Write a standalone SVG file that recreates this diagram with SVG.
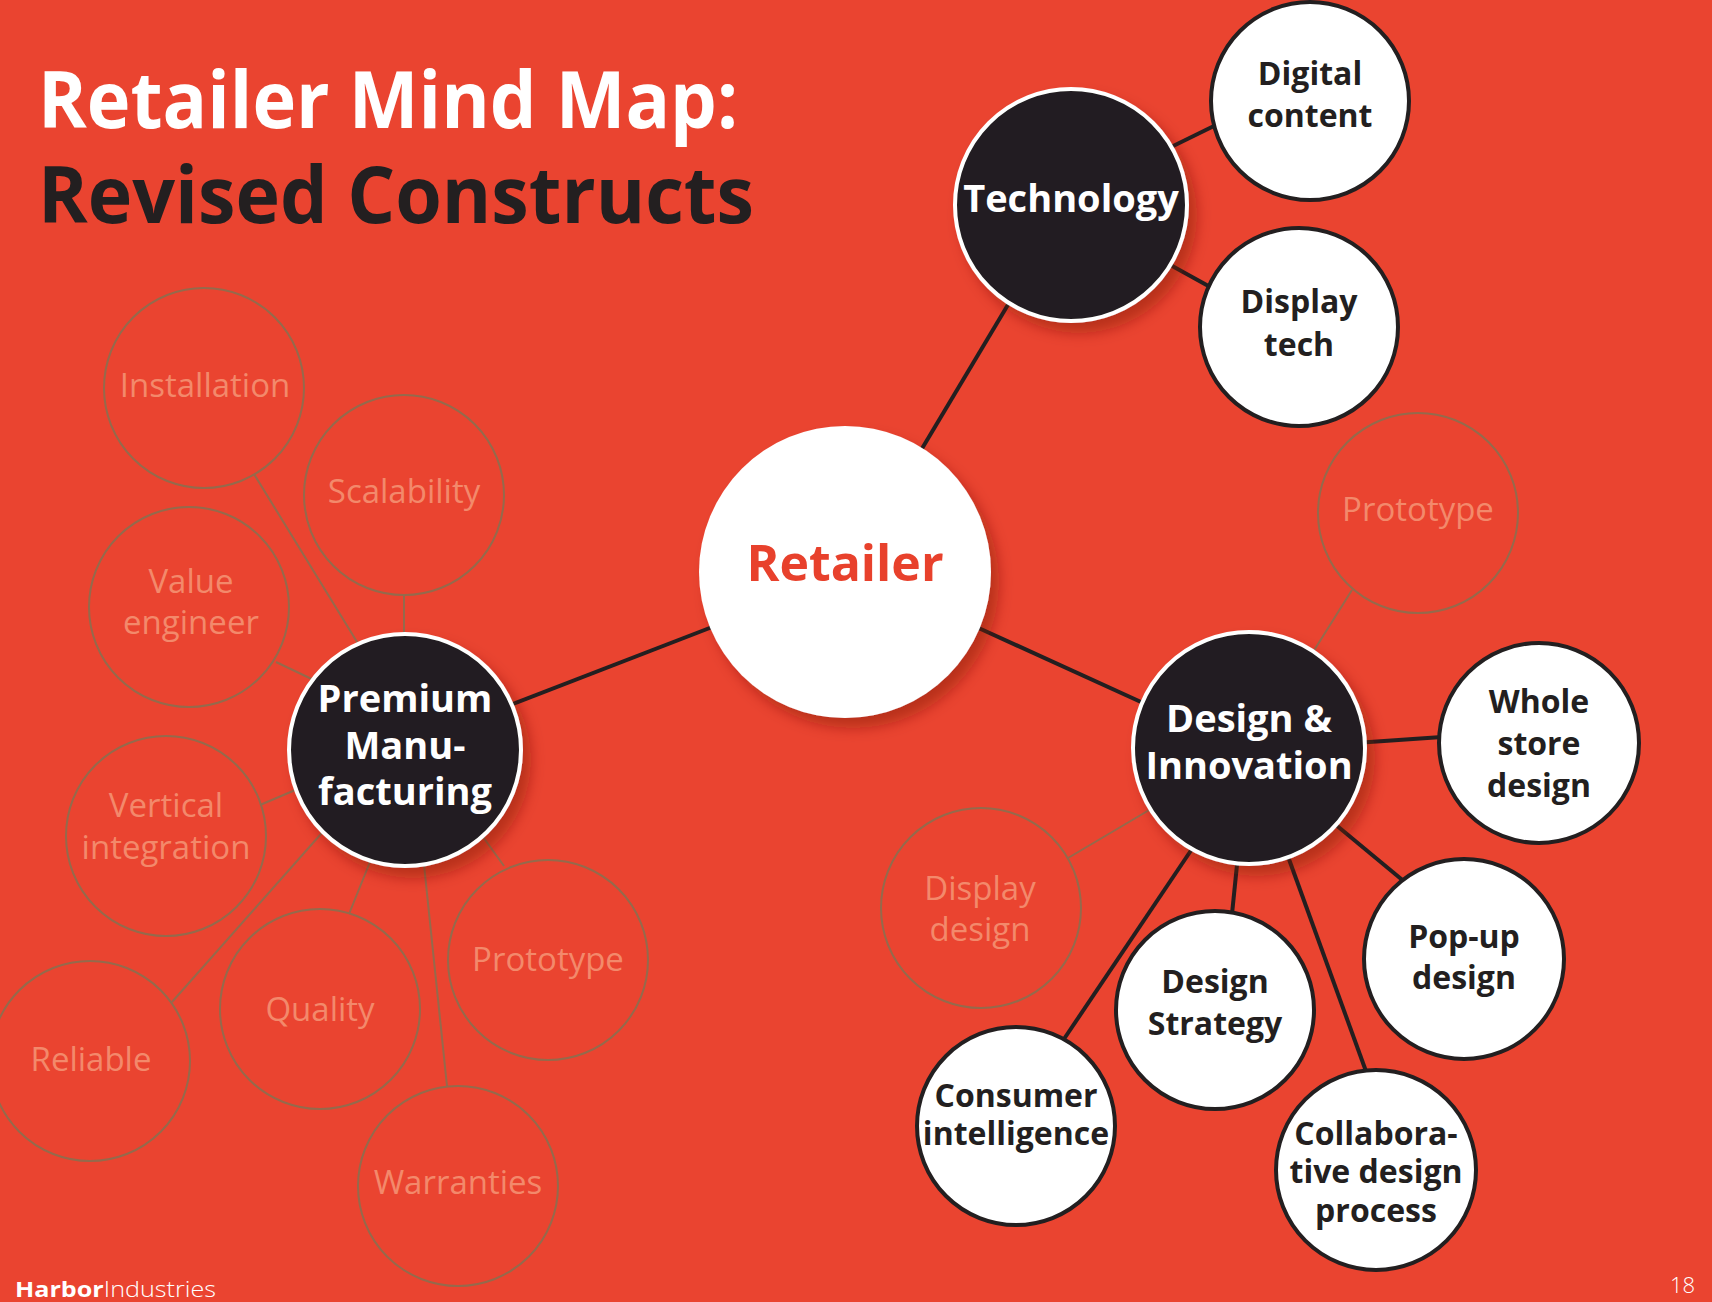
<svg xmlns="http://www.w3.org/2000/svg" width="1712" height="1302" viewBox="0 0 1712 1302">
  <defs>
    <filter id="shadow" x="-30%" y="-30%" width="170%" height="170%">
      <feDropShadow dx="8" dy="10" stdDeviation="7" flood-color="#7a1a0c" flood-opacity="0.45"/>
    </filter>
    <style>
      .title { font-family: "Open Sans", "Liberation Sans", sans-serif; font-weight: 700; font-size: 78px; }
      .main { stroke: #231f20; stroke-width: 4; fill: none; stroke-linecap: butt; }
      .faint { stroke: #946a4c; stroke-width: 2; fill: none; }
      .hub { fill: #231f20; stroke: #ffffff; stroke-width: 4; filter: url(#shadow); }
      .leaf { fill: #ffffff; stroke: #231f20; stroke-width: 4; }
      .ghost { fill: none; stroke: #946a4c; stroke-width: 2; }
      .hubtxt { font-family: "Open Sans", "Liberation Sans", sans-serif; font-weight: 700; font-size: 38px; fill: #ffffff; text-anchor: middle; }
      .leaftxt { font-family: "Open Sans", "Liberation Sans", sans-serif; font-weight: 700; font-size: 32px; fill: #231f20; text-anchor: middle; }
      .ghosttxt { font-family: "Open Sans", "Liberation Sans", sans-serif; font-weight: 400; font-size: 33px; fill: #f3896b; text-anchor: middle; }
      .foot { font-family: "Open Sans", "Liberation Sans", sans-serif; font-size: 22px; fill: #ffffff; }
    </style>
  </defs>

  <rect x="0" y="0" width="1712" height="1302" fill="#ea4430"/>

  <g id="title">
    <text class="title" x="38" y="128" fill="#ffffff" textLength="700" lengthAdjust="spacingAndGlyphs">Retailer Mind Map:</text>
    <text class="title" x="38" y="223" fill="#231f20" textLength="716" lengthAdjust="spacingAndGlyphs">Revised Constructs</text>
  </g>

  <g id="connectors">
    <line class="main" x1="905" y1="477" x2="1012" y2="298"/>
    <line class="main" x1="720" y1="624" x2="500" y2="709"/>
    <line class="main" x1="972" y1="625" x2="1152" y2="707"/>
    <line class="main" x1="1165" y1="150" x2="1218" y2="124"/>
    <line class="main" x1="1165" y1="262" x2="1212" y2="288"/>
    <line class="main" x1="1355" y1="743" x2="1442" y2="737"/>
    <line class="main" x1="1330" y1="820" x2="1406" y2="883"/>
    <line class="main" x1="1286" y1="851" x2="1367" y2="1074"/>
    <line class="main" x1="1238" y1="855" x2="1232" y2="914"/>
    <line class="main" x1="1196" y1="843" x2="1064" y2="1039"/>

    <line class="faint" x1="254" y1="474" x2="362" y2="650"/>
    <line class="faint" x1="404" y1="595" x2="404" y2="645"/>
    <line class="faint" x1="276" y1="662" x2="320" y2="683"/>
    <line class="faint" x1="260" y1="805" x2="300" y2="788"/>
    <line class="faint" x1="172" y1="1002" x2="328" y2="826"/>
    <line class="faint" x1="349" y1="914" x2="372" y2="857"/>
    <line class="faint" x1="447" y1="1086" x2="423" y2="855"/>
    <line class="faint" x1="504" y1="866" x2="478" y2="830"/>
    <line class="faint" x1="1352" y1="590" x2="1308" y2="660"/>
    <line class="faint" x1="1068" y1="858" x2="1156" y2="806"/>
  </g>

  <g id="node-retailer">
    <circle cx="845" cy="572" r="146" fill="#ffffff" filter="url(#shadow)"/>
    <text x="845" y="581" font-family="'Open Sans', 'Liberation Sans', sans-serif" font-weight="700" font-size="50" fill="#e8412c" text-anchor="middle">Retailer</text>
  </g>

  <g id="node-technology">
    <circle class="hub" cx="1071" cy="205" r="116"/>
    <text class="hubtxt" x="1071" y="212">Technology</text>
  </g>
  <g id="node-digital-content">
    <circle class="leaf" cx="1310" cy="101" r="99"/>
    <text class="leaftxt" x="1310" y="85">Digital</text>
    <text class="leaftxt" x="1310" y="127">content</text>
  </g>
  <g id="node-display-tech">
    <circle class="leaf" cx="1299" cy="327" r="99"/>
    <text class="leaftxt" x="1299" y="313">Display</text>
    <text class="leaftxt" x="1299" y="356">tech</text>
  </g>

  <g id="node-premium">
    <circle class="hub" cx="405" cy="750" r="116"/>
    <text class="hubtxt" x="405" y="712">Premium</text>
    <text class="hubtxt" x="405" y="759">Manu-</text>
    <text class="hubtxt" x="405" y="805">facturing</text>
  </g>
  <g id="node-installation">
    <circle class="ghost" cx="204" cy="388" r="100"/>
    <text class="ghosttxt" x="205" y="397">Installation</text>
  </g>
  <g id="node-scalability">
    <circle class="ghost" cx="404" cy="495" r="100"/>
    <text class="ghosttxt" x="404" y="503">Scalability</text>
  </g>
  <g id="node-value-engineer">
    <circle class="ghost" cx="189" cy="607" r="100"/>
    <text class="ghosttxt" x="191" y="593">Value</text>
    <text class="ghosttxt" x="191" y="634">engineer</text>
  </g>
  <g id="node-vertical-integration">
    <circle class="ghost" cx="166" cy="836" r="100"/>
    <text class="ghosttxt" x="166" y="817">Vertical</text>
    <text class="ghosttxt" x="166" y="859">integration</text>
  </g>
  <g id="node-reliable">
    <circle class="ghost" cx="90" cy="1061" r="100"/>
    <text class="ghosttxt" x="91" y="1071">Reliable</text>
  </g>
  <g id="node-quality">
    <circle class="ghost" cx="320" cy="1009" r="100"/>
    <text class="ghosttxt" x="320" y="1021">Quality</text>
  </g>
  <g id="node-prototype-left">
    <circle class="ghost" cx="548" cy="960" r="100"/>
    <text class="ghosttxt" x="548" y="971">Prototype</text>
  </g>
  <g id="node-warranties">
    <circle class="ghost" cx="458" cy="1186" r="100"/>
    <text class="ghosttxt" x="458" y="1194">Warranties</text>
  </g>

  <g id="node-design-innovation">
    <circle class="hub" cx="1249" cy="748" r="116"/>
    <text class="hubtxt" x="1249" y="732">Design &amp;</text>
    <text class="hubtxt" x="1249" y="779">Innovation</text>
  </g>
  <g id="node-prototype-right">
    <circle class="ghost" cx="1418" cy="513" r="100"/>
    <text class="ghosttxt" x="1418" y="521">Prototype</text>
  </g>
  <g id="node-whole-store-design">
    <circle class="leaf" cx="1539" cy="743" r="100"/>
    <text class="leaftxt" x="1539" y="713">Whole</text>
    <text class="leaftxt" x="1539" y="755">store</text>
    <text class="leaftxt" x="1539" y="797">design</text>
  </g>
  <g id="node-popup-design">
    <circle class="leaf" cx="1464" cy="959" r="100"/>
    <text class="leaftxt" x="1464" y="948">Pop-up</text>
    <text class="leaftxt" x="1464" y="989">design</text>
  </g>
  <g id="node-display-design">
    <circle class="ghost" cx="981" cy="908" r="100"/>
    <text class="ghosttxt" x="980" y="900">Display</text>
    <text class="ghosttxt" x="980" y="941">design</text>
  </g>
  <g id="node-design-strategy">
    <circle class="leaf" cx="1215" cy="1010" r="99"/>
    <text class="leaftxt" x="1215" y="993">Design</text>
    <text class="leaftxt" x="1215" y="1035">Strategy</text>
  </g>
  <g id="node-consumer-intelligence">
    <circle class="leaf" cx="1016" cy="1126" r="99"/>
    <text class="leaftxt" x="1016" y="1107" font-size="30">Consumer</text>
    <text class="leaftxt" x="1016" y="1145" font-size="30">intelligence</text>
  </g>
  <g id="node-collaborative">
    <circle class="leaf" cx="1376" cy="1170" r="100"/>
    <text class="leaftxt" x="1376" y="1145" font-size="30">Collabora-</text>
    <text class="leaftxt" x="1376" y="1183" font-size="30">tive design</text>
    <text class="leaftxt" x="1376" y="1222" font-size="30">process</text>
  </g>

  <g id="footer">
    <text class="foot" x="15" y="1297" textLength="201" lengthAdjust="spacingAndGlyphs"><tspan font-weight="700">Harbor</tspan><tspan font-weight="300">Industries</tspan></text>
    <text class="foot" x="1695" y="1293" font-size="24" font-weight="300" text-anchor="end">18</text>
  </g>
</svg>
